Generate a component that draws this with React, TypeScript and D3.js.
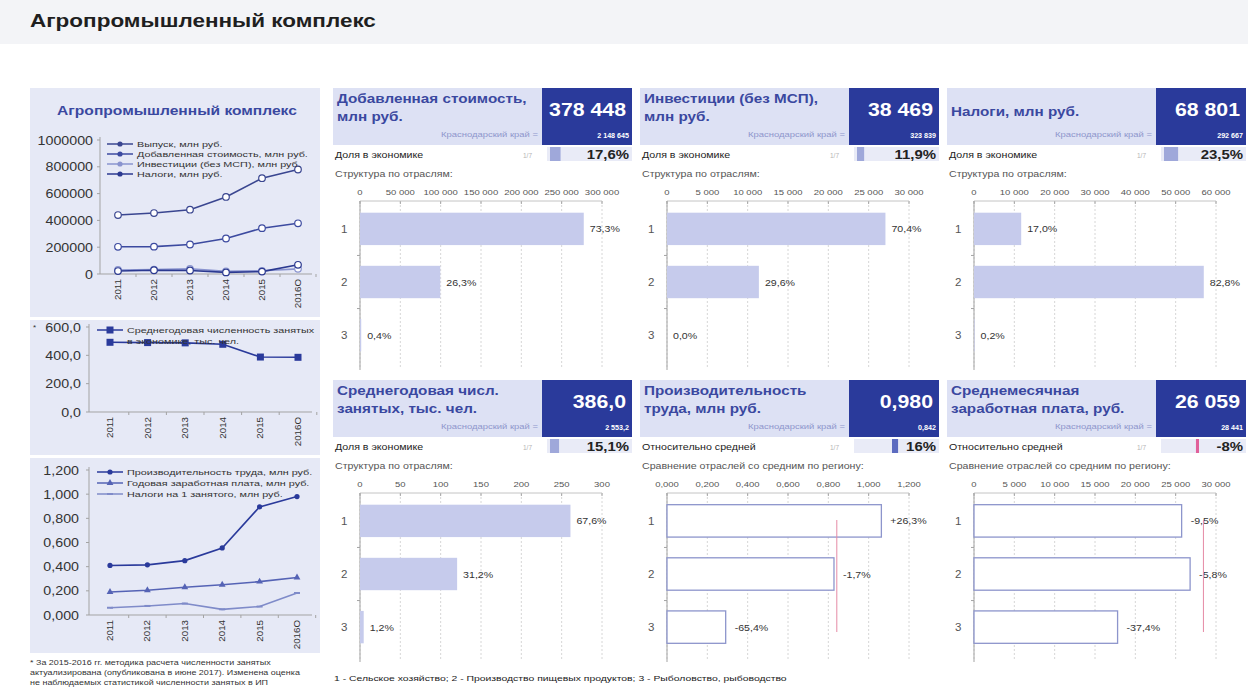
import { useEffect, useRef } from "react";
import * as d3 from "d3";

const FONT = "'Liberation Sans', Arial, Helvetica, sans-serif";
const DARK_BOX = "#2a3a9b";
const TITLE_BLUE = "#3a48a0";
const HEADER_BG = "#dde1f4";
const PANEL_BG = "#e6e9f6";
const SHARE_BG = "#e9ebf7";
const BAR_FILL = "#c6cbec";
const OUTLINE = "#8d95cc";
const AXIS = "#a3a3a3";
const PINK = "#e58aa5";

// left column: time series
const years = ["2011", "2012", "2013", "2014", "2015", "2016О"];
const outputMln = [440000, 455000, 480000, 575000, 715000, 780000];
const addedValueMln = [203000, 204000, 220000, 265000, 342000, 378448];
const investMln = [30000, 33000, 38000, 20000, 24000, 38469];
const taxesMln = [22000, 28000, 26000, 12000, 18000, 68801];
const employedThs = [492, 490, 488, 478, 388, 386];
const productivityMln = [0.41, 0.415, 0.45, 0.555, 0.895, 0.98];
const annualWageMln = [0.19, 0.205, 0.23, 0.25, 0.276, 0.31];
const taxPerWorkerMln = [0.06, 0.075, 0.095, 0.047, 0.07, 0.182];

const chart1Ticks = [0, 200000, 400000, 600000, 800000, 1000000];
const chart2Ticks = [0, 200, 400, 600];
const chart3Ticks = [0, 0.2, 0.4, 0.6, 0.8, 1.0, 1.2];

// indicator cards
const cardTitles = [
  ["Добавленная стоимость,", "млн руб."],
  ["Инвестиции (без МСП),", "млн руб."],
  ["Налоги, млн руб."],
  ["Среднегодовая числ.", "занятых, тыс. чел."],
  ["Производительность", "труда, млн руб."],
  ["Среднемесячная", "заработная плата, руб."],
];
const cardValues = ["378 448", "38 469", "68 801", "386,0", "0,980", "26 059"];
const regionValues = ["2 148 645", "323 839", "292 667", "2 553,2", "0,842", "28 441"];
const rowLabels = ["Доля в экономике", "Доля в экономике", "Доля в экономике", "Доля в экономике", "Относительно средней", "Относительно средней"];
const rankLabels = ["1/7", "1/7", "1/7", "1/7", "1/7", "1/7"];
const shareValues = [17.6, 11.9, 23.5, 15.1, 16, -8];
const shareLabels = ["17,6%", "11,9%", "23,5%", "15,1%", "16%", "-8%"];
const captions = [
  "Структура по отраслям:",
  "Структура по отраслям:",
  "Структура по отраслям:",
  "Структура по отраслям:",
  "Сравнение отраслей со средним по региону:",
  "Сравнение отраслей со средним по региону:",
];
const branches = ["1", "2", "3"];
const branchValues = [
  [277400, 99530, 1510],
  [27080, 11390, 0],
  [11700, 56970, 140],
  [260.9, 120.4, 4.6],
  [1.063, 0.828, 0.291],
  [25740, 26790, 17800],
];
const branchLabels = [
  ["73,3%", "26,3%", "0,4%"],
  ["70,4%", "29,6%", "0,0%"],
  ["17,0%", "82,8%", "0,2%"],
  ["67,6%", "31,2%", "1,2%"],
  ["+26,3%", "-1,7%", "-65,4%"],
  ["-9,5%", "-5,8%", "-37,4%"],
];
const axisTicks = [
  [0, 50000, 100000, 150000, 200000, 250000, 300000],
  [0, 5000, 10000, 15000, 20000, 25000, 30000],
  [0, 10000, 20000, 30000, 40000, 50000, 60000],
  [0, 50, 100, 150, 200, 250, 300],
  [0, 0.2, 0.4, 0.6, 0.8, 1.0, 1.2],
  [0, 5000, 10000, 15000, 20000, 25000, 30000],
];
const regionAverage = [null, null, null, null, 0.842, 28441];

const footnote = [
  "* За 2015-2016 гг. методика расчета численности занятых",
  "актуализирована (опубликована в июне 2017). Изменена оценка",
  "не наблюдаемых статистикой численности занятых в ИП",
];
const branchLegend = "1 - Сельское хозяйство; 2 - Производство пищевых продуктов; 3 - Рыболовство, рыбоводство";

const ru = d3.formatLocale({ decimal: ",", thousands: " ", grouping: [3], currency: ["", ""] });

function label(g: any, x: number, y: number, str: string, size: number, o: any = {}) {
  return g
    .append("text")
    .attr("transform", `translate(${x},${y})${o.rotate ? ` rotate(${o.rotate})` : ""} scale(${o.sx ?? 1.25},1)`)
    .attr("text-anchor", o.anchor || "start")
    .attr("font-family", FONT)
    .attr("font-size", size)
    .attr("font-weight", o.bold ? "bold" : "normal")
    .attr("fill", o.fill || "#222")
    .text(str);
}

function marker(g: any, kind: string, cx: number, cy: number, color: string) {
  if (kind === "circle") {
    g.append("circle").attr("cx", cx).attr("cy", cy).attr("r", 3.3)
      .attr("fill", "#fff").attr("stroke", color).attr("stroke-width", 1.2);
  } else if (kind === "square") {
    g.append("rect").attr("x", cx - 3.5).attr("y", cy - 3.5).attr("width", 7).attr("height", 7).attr("fill", color);
  } else if (kind === "dot") {
    g.append("circle").attr("cx", cx).attr("cy", cy).attr("r", 2.6).attr("fill", color);
  } else if (kind === "triangle") {
    g.append("path").attr("d", d3.symbol(d3.symbolTriangle, 20)()).attr("transform", `translate(${cx},${cy})`).attr("fill", color);
  } else if (kind === "dash") {
    g.append("rect").attr("x", cx - 3).attr("y", cy - 1).attr("width", 6).attr("height", 2).attr("fill", color);
  }
}

function lineChart(svg: any, o: any) {
  const g = svg.append("g");
  const x = d3.scalePoint().domain(years).range([o.x1, o.x2]);
  const y = d3.scaleLinear().domain([0, o.max]).range([o.bottom, o.top]);
  const step = x.step();

  g.append("line").attr("x1", o.axisX).attr("x2", o.axisX).attr("y1", o.top - 3).attr("y2", o.bottom).attr("stroke", AXIS);
  g.append("line").attr("x1", o.axisX).attr("x2", o.right).attr("y1", o.bottom).attr("y2", o.bottom).attr("stroke", AXIS);

  o.ticks.forEach((t: number) => {
    g.append("line").attr("x1", o.axisX - 3).attr("x2", o.axisX).attr("y1", y(t)).attr("y2", y(t)).attr("stroke", AXIS);
    label(g, o.labelX, y(t) + 4.5, o.fmt(t), 12.5, { anchor: "end", fill: "#333", sx: 1.14 });
  });

  years.forEach((yr) => {
    const px = x(yr) as number;
    g.append("line").attr("x1", px + step / 2).attr("x2", px + step / 2)
      .attr("y1", o.bottom).attr("y2", o.bottom + 3).attr("stroke", AXIS);
    label(g, px + 3, o.bottom + 5, yr, 8.5, { anchor: "end", rotate: -90, fill: "#333", sx: 1.15 });
  });

  const line = d3.line<number>().x((_, i) => x(years[i]) as number).y((d) => y(d));
  o.series.forEach((s: any) => {
    g.append("path").attr("d", line(s.values)).attr("fill", "none")
      .attr("stroke", s.color).attr("stroke-width", s.width || 1.6);
    s.values.forEach((v: number, i: number) => marker(g, s.marker, x(years[i]) as number, y(v), s.color));
  });

  o.legend.forEach((s: any, k: number) => {
    const ly = o.legendY + k * o.legendStep;
    g.append("line").attr("x1", o.legendX).attr("x2", o.legendX + 26).attr("y1", ly).attr("y2", ly)
      .attr("stroke", s.color).attr("stroke-width", 1.5);
    marker(g, s.marker === "circle" ? "dot" : s.marker, o.legendX + 13, ly, s.color);
    s.text.forEach((t: string, j: number) =>
      label(g, o.legendX + 30, ly + 3 + j * 11, t, 8, { fill: "#333", sx: 1.35 })
    );
  });
}

function card(svg: any, i: number) {
  const x0 = 333 + (i % 3) * 307;
  const y0 = i < 3 ? 88 : 380;
  const g = svg.append("g").attr("transform", `translate(${x0},${y0})`);

  g.append("rect").attr("width", 209).attr("height", 57).attr("fill", HEADER_BG);
  g.append("rect").attr("x", 209).attr("width", 90).attr("height", 57).attr("fill", DARK_BOX);

  const lines = cardTitles[i];
  lines.forEach((s, k) =>
    label(g, 4, lines.length > 1 ? 15 + k * 18 : 28, s, 12.5, { bold: true, fill: TITLE_BLUE, sx: 1.22 })
  );
  label(g, 205, 49, "Краснодарский край =", 7, { anchor: "end", fill: "#8e96cc", sx: 1.35 });
  label(g, 293, 28, cardValues[i], 19, { anchor: "end", bold: true, fill: "#fff", sx: 1.12 });
  label(g, 296, 50, regionValues[i], 6.5, { anchor: "end", bold: true, fill: "#fff", sx: 1.1 });

  // share / relative row
  label(g, 2, 70, rowLabels[i], 8.5, { fill: "#222", sx: 1.25 });
  label(g, 190, 70, rankLabels[i], 6.5, { fill: "#b5b5b5", sx: 1 });
  g.append("rect").attr("x", 214).attr("y", 59).attr("width", 85).attr("height", 14).attr("fill", SHARE_BG);
  const v = shareValues[i];
  if (i < 4) {
    const s = d3.scaleLinear().domain([0, 100]).range([0, 60]);
    g.append("rect").attr("x", 217).attr("y", 59).attr("width", s(v)).attr("height", 14).attr("fill", "#9fa8da");
  } else {
    const s = d3.scaleLinear().domain([-100, 100]).range([214, 290]);
    g.append("rect").attr("x", Math.min(s(0), s(v))).attr("y", 59)
      .attr("width", Math.max(2, Math.abs(s(v) - s(0)))).attr("height", 14)
      .attr("fill", v >= 0 ? "#5c6bc0" : "#e0609a");
  }
  label(g, 296, 71, shareLabels[i], 13, { anchor: "end", bold: true, fill: "#222", sx: 1.15 });
  label(g, 2, 89, captions[i], 8.5, { fill: "#555", sx: 1.25 });

  // bar chart
  const ticks = axisTicks[i];
  const fmt = i === 4 ? ru.format(".3f") : ru.format(",d");
  const x = d3.scaleLinear().domain([0, ticks[ticks.length - 1]]).range([27, 269]);
  const y = d3.scaleBand().domain(branches).range([113, 275]).paddingInner(0.39).paddingOuter(0.22);

  ticks.forEach((t) => {
    g.append("line").attr("x1", x(t)).attr("x2", x(t)).attr("y1", 113).attr("y2", 279)
      .attr("stroke", "#d6d6d6").attr("stroke-dasharray", "2,2");
    g.append("line").attr("x1", x(t)).attr("x2", x(t)).attr("y1", 113).attr("y2", 116).attr("stroke", AXIS);
    label(g, x(t), 107, fmt(t), 7.6, { anchor: "middle", fill: "#555", sx: 1.25 });
  });
  g.append("line").attr("x1", 27).attr("x2", 269).attr("y1", 113).attr("y2", 113).attr("stroke", "#c4c4c4");
  g.append("line").attr("x1", 27).attr("x2", 27).attr("y1", 113).attr("y2", 282).attr("stroke", AXIS);

  const outlined = i >= 4;
  branches.forEach((b, k) => {
    const by = y(b) as number;
    const val = branchValues[i][k];
    g.append("rect").attr("x", x(0)).attr("y", by).attr("width", x(val) - x(0)).attr("height", y.bandwidth())
      .attr("fill", outlined ? "#fff" : BAR_FILL)
      .attr("stroke", outlined ? OUTLINE : "none").attr("stroke-width", 1.3);
    label(g, 8, by + y.bandwidth() / 2 + 4, b, 10.5, { fill: "#555", sx: 1.1 });
    label(g, x(val) + (outlined ? 9 : 6), by + y.bandwidth() / 2 + 3.5, branchLabels[i][k], 8.5, { fill: "#333", sx: 1.25 });
    if (k < 2) {
      const ty = by + y.bandwidth() + (y.step() - y.bandwidth()) / 2;
      g.append("line").attr("x1", 24).attr("x2", 27).attr("y1", ty).attr("y2", ty).attr("stroke", AXIS);
    }
  });

  const avg = regionAverage[i];
  if (avg != null) {
    g.append("line").attr("x1", x(avg)).attr("x2", x(avg)).attr("y1", 140).attr("y2", 252)
      .attr("stroke", PINK).attr("stroke-width", 1);
  }
}

export default function App() {
  const ref = useRef<SVGSVGElement>(null);

  useEffect(() => {
    const svg = d3.select(ref.current);
    svg.selectAll("*").remove();

    svg.append("rect").attr("width", 1248).attr("height", 696).attr("fill", "#fff");
    svg.append("rect").attr("width", 1248).attr("height", 44).attr("fill", "#f3f4f7");
    label(svg, 30, 27, "Агропромышленный комплекс", 18, { bold: true, fill: "#1f1f1f", sx: 1.25 });

    // left panel
    svg.append("rect").attr("x", 30).attr("y", 88).attr("width", 290).attr("height", 229).attr("fill", PANEL_BG);
    svg.append("rect").attr("x", 30).attr("y", 320).attr("width", 290).attr("height", 135).attr("fill", PANEL_BG);
    svg.append("rect").attr("x", 30).attr("y", 458).attr("width", 290).attr("height", 195).attr("fill", PANEL_BG);
    label(svg, 177, 115, "Агропромышленный комплекс", 12, { anchor: "middle", bold: true, fill: TITLE_BLUE, sx: 1.3 });

    const s1 = [
      { values: outputMln, color: "#3a4690", marker: "circle", text: ["Выпуск, млн руб."] },
      { values: addedValueMln, color: "#3c4aa0", marker: "circle", text: ["Добавленная стоимость, млн руб."] },
      { values: investMln, color: "#8a94cf", marker: "circle", text: ["Инвестиции (без МСП), млн руб."] },
      { values: taxesMln, color: "#2b3990", marker: "circle", text: ["Налоги, млн руб."] },
    ];
    lineChart(svg, {
      top: 140, bottom: 274, axisX: 100, right: 312, x1: 118, x2: 298, max: 1000000,
      ticks: chart1Ticks, fmt: d3.format("d"), labelX: 93,
      series: s1, legend: s1, legendX: 107, legendY: 144, legendStep: 10,
    });

    label(svg, 33, 330, "*", 8, { fill: "#333", sx: 1 });
    const s2 = [
      { values: employedThs, color: "#2a3a9b", marker: "square",
        text: ["Среднегодовая численность занятых", "в экономике, тыс. чел."] },
    ];
    lineChart(svg, {
      top: 327, bottom: 412, axisX: 89, right: 312, x1: 110, x2: 298, max: 600,
      ticks: chart2Ticks, fmt: ru.format(".1f"), labelX: 81,
      series: s2, legend: s2, legendX: 97, legendY: 330, legendStep: 11,
    });

    const s3 = [
      { values: productivityMln, color: "#2a3a9b", marker: "dot", text: ["Производительность труда, млн руб."] },
      { values: annualWageMln, color: "#5563b5", marker: "triangle", text: ["Годовая заработная плата, млн руб."] },
      { values: taxPerWorkerMln, color: "#7f8bc9", marker: "dash", text: ["Налоги на 1 занятого, млн руб."] },
    ];
    lineChart(svg, {
      top: 470, bottom: 615, axisX: 89, right: 312, x1: 110, x2: 297, max: 1.2,
      ticks: chart3Ticks, fmt: ru.format(".3f"), labelX: 79,
      series: s3, legend: s3, legendX: 97, legendY: 472, legendStep: 11,
    });

    footnote.forEach((t, k) => label(svg, 30, 665 + k * 10, t, 6.5, { fill: "#333", sx: 1.38 }));

    for (let i = 0; i < 6; i++) card(svg, i);

    label(svg, 334, 681, branchLegend, 8, { fill: "#222", sx: 1.3 });
  }, []);

  return (
    <svg
      ref={ref}
      width={1248}
      height={696}
      style={{ position: "absolute", left: 0, top: 0, display: "block" }}
    />
  );
}
